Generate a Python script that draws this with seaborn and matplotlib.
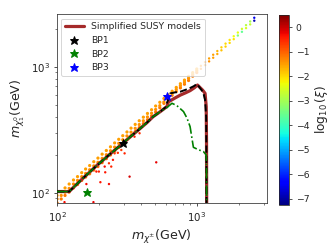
import numpy as np
import pandas as pd
import matplotlib
matplotlib.use("Agg")
import matplotlib.pyplot as plt
import seaborn as sns
from matplotlib.colors import Normalize
from matplotlib.cm import ScalarMappable

sns.set_style("ticks")
plt.rcParams['font.family'] = ['DejaVu Sans']

# ---------------- data ----------------
# dense band of scan points (upper diagonal), m < 1 TeV
band_x = [100]*3 + [107]*3 + [114]*3 + [122]*3 + [131]*3 + [140]*3 + [150]*3 + [160]*3 + [171]*3 + [183]*3 + \
         [196]*3 + [210]*3 + [225]*3 + [241]*3 + [258]*3 + [276]*3 + [295]*3 + [316]*3 + [338]*3 + [362]*3 + \
         [387]*3 + [414]*3 + [443]*3 + [474]*3 + [507]*3 + [543]*3 + [581]*3 + [622]*3 + [665]*3 + [712]*3 + \
         [762]*3 + [815]*3 + [872]*3 + [933]*3 + [998]*3
band_y = [83, 89, 95, 89, 95, 102, 95, 101, 109, 101, 108, 117, 109, 117, 126, 116, 125, 134, 125, 134, 144,
          133, 142, 154, 141, 152, 164, 151, 163, 176, 161, 174, 188, 173, 187, 202, 186, 200, 216, 199, 215, 231,
          213, 230, 248, 228, 246, 265, 244, 263, 283, 263, 282, 303, 283, 302, 325, 305, 324, 348, 328, 347, 372,
          353, 372, 397, 379, 399, 425, 407, 427, 455, 436, 457, 487, 472, 490, 521, 511, 525, 558, 553, 575, 597,
          592, 615, 638, 634, 659, 684, 678, 705, 732, 725, 754, 782, 776, 807, 837, 840, 868, 896, 898, 928, 958]
band_c = [-1.2, -1.4, -1.5]*35

# sparse high-mass tail of the band
tail_x = [1068, 1068, 1143, 1143, 1223, 1223, 1308, 1308, 1400, 1400, 1498, 1498, 1603, 1603, 1715, 1715,
          1835, 1835, 1963, 1963, 2100, 2100, 2247, 2247, 2405, 2405, 2573, 2573]
tail_y = [961, 1015, 1029, 1086, 1101, 1162, 1177, 1243, 1260, 1330, 1348, 1423, 1443, 1523, 1544, 1629,
          1652, 1743, 1767, 1865, 1890, 1995, 2022, 2135, 2165, 2285, 2316, 2444]
tail_c = [-1.3, -1.4, -1.4, -1.4, -1.4, -1.5, -1.5, -1.5, -1.6, -1.7, -1.8, -1.9, -1.9, -2.0, -2.0, -2.1,
          -2.1, -2.3, -3.3, -2.4, -3.6, -2.6, -2.5, -2.8, -2.7, -3.0, -6.9, -6.5]

# sparse points below the diagonal
red_x = [113, 182, 162, 204, 235, 330, 512, 191, 199, 221, 219, 244, 235, 193, 207, 258, 272, 304, 288, 389, 358, 251]
red_y = [84, 84, 117, 121, 117, 134, 174, 147, 147, 145, 161, 161, 171, 166, 174, 205, 207, 205, 218, 296, 278, 182]
red_c = [-0.3, -0.2, -0.3, -0.4, -0.3, -0.1, -0.2, -0.4, -0.5, -0.4, -0.3, -0.5, -0.6, -0.5, -0.6, -0.7,
         -0.6, -0.5, -0.7, -0.6, -0.5, -0.4]

# simplified SUSY model contours
susy_x = [100, 122, 153, 191, 240, 296, 340, 389, 440, 485, 548, 610, 626, 700, 762, 830, 894, 960, 1010,
          1060, 1100, 1144, 1166, 1172, 1175]
susy_y = [102, 102, 130, 163, 203, 247, 282, 320, 360, 400, 440, 482, 526, 565, 595, 620, 645, 680, 715,
          677, 650, 614, 482, 250, 70]
dash_x = [100, 122, 153, 191, 240, 296, 340, 389, 440, 485, 548, 600, 610, 645, 700, 762, 830, 894, 950,
          1000, 1040, 1083, 1120, 1144, 1165, 1170, 1172]
dash_y = [102, 102, 130, 163, 203, 247, 282, 320, 360, 400, 440, 478, 512, 614, 625, 633, 655, 677, 700,
          728, 690, 650, 600, 545, 400, 200, 70]
dd_x = [100, 122, 153, 191, 240, 296, 340, 389, 440, 485, 548, 610, 663, 720, 802, 850, 894, 944, 1000,
        1060, 1113, 1166, 1172, 1175]
dd_y = [102, 102, 130, 163, 203, 247, 282, 320, 360, 400, 440, 473, 512, 490, 440, 390, 334, 229, 222,
        216, 212, 199, 150, 70]

# benchmark points
bp_names = ["BP1", "BP2", "BP3"]
bp_x = [296, 164, 616]
bp_y = [247, 102, 588]
bp_colors = ["black", "green", "blue"]

vmin, vmax = -7.25, 0.5
cb_ticks = [0, -1, -2, -3, -4, -5, -6, -7]

# ---------------- plot ----------------
jet = matplotlib.colormaps["jet"]
norm = Normalize(vmin, vmax)
fig = plt.figure(figsize=(4.8, 3.6), dpi=70)
ax = fig.add_axes([0.169, 0.1925, 0.625, 0.752])
cax = fig.add_axes([0.830, 0.1865, 0.0298, 0.754])

dense = pd.DataFrame({"x": band_x, "y": band_y, "c": band_c})
sparse = pd.DataFrame({"x": tail_x + red_x, "y": tail_y + red_y, "c": tail_c + red_c})
sns.scatterplot(data=dense, x="x", y="y", hue="c", palette=jet, hue_norm=norm,
                s=11, linewidth=0, marker="o", legend=False, ax=ax, zorder=1)
sns.scatterplot(data=sparse, x="x", y="y", hue="c", palette=jet, hue_norm=norm,
                s=6, linewidth=0, marker="o", legend=False, ax=ax, zorder=1)

ax.plot(susy_x, susy_y, color="#a52a2a", lw=3.3, zorder=2, label="Simplified SUSY models")
ax.plot(dash_x, dash_y, color="black", lw=2.0, ls="--", zorder=3)
ax.plot(dd_x, dd_y, color="green", lw=1.7, ls="-.", zorder=4)

for n, x, y, c in zip(bp_names, bp_x, bp_y, bp_colors):
    ax.plot([x], [y], marker="*", ls="none", color=c, markersize=9, zorder=6, label=n)

ax.set_xscale("log")
ax.set_yscale("log")
ax.set_xlim(99.5, 3162)
ax.set_ylim(82, 2618)
ax.set_xlabel(r"$m_{\chi^{\pm}}$(GeV)", fontsize=13)
ax.set_ylabel(r"$m_{\chi_1^0}$(GeV)", fontsize=13)
ax.tick_params(labelsize=10.5, colors="#222222")
ax.tick_params(which="minor", length=2, width=0.6)
for s in ax.spines.values():
    s.set_color("#333333")
ax.legend(loc="upper left", fontsize=9.5, framealpha=0.8)

sm = ScalarMappable(norm=norm, cmap=jet)
cb = fig.colorbar(sm, cax=cax, ticks=cb_ticks)
cb.ax.tick_params(labelsize=9.5)
cb.set_label(r"$\log_{10}(\xi)$", fontsize=12.5)

fig.savefig("out.png", dpi=70)
